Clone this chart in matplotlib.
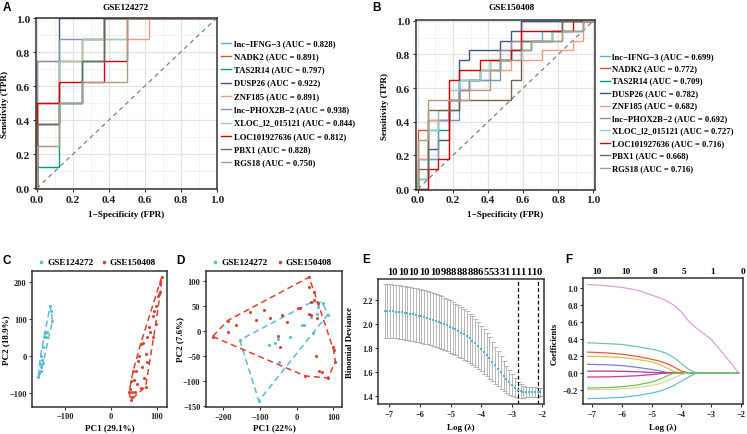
import numpy as np
import matplotlib
matplotlib.use("Agg")
import matplotlib.pyplot as plt
from matplotlib.lines import Line2D

# ---------------- data ----------------
genes = ['lnc\u2212IFNG\u22123', 'NADK2', 'TAS2R14', 'DUSP26', 'ZNF185',
         'lnc\u2212PHOX2B\u22122', 'XLOC_l2_015121', 'LOC101927636', 'PBX1', 'RGS18']
roc_colors = ['#4DBBD5', '#E64B35', '#00A087', '#3C5488', '#F39B7F',
              '#8491B4', '#91D1C2', '#DC0000', '#7E6148', '#B09C85']
auc_a = [0.828, 0.891, 0.797, 0.922, 0.891, 0.938, 0.844, 0.812, 0.828, 0.750]
auc_b = [0.699, 0.772, 0.709, 0.782, 0.682, 0.692, 0.727, 0.716, 0.668, 0.716]

# true positives reached in each FPR column (8 controls / 8 cases)
roc_a = [
    [3, 4, 6, 8, 8, 8, 8, 8],
    [4, 6, 7, 8, 8, 8, 8, 8],
    [1, 4, 6, 8, 8, 8, 8, 8],
    [3, 8, 8, 8, 8, 8, 8, 8],
    [6, 6, 7, 7, 7, 8, 8, 8],
    [6, 7, 7, 8, 8, 8, 8, 8],
    [2, 6, 7, 7, 8, 8, 8, 8],
    [4, 5, 5, 6, 8, 8, 8, 8],
    [3, 4, 6, 8, 8, 8, 8, 8],
    [2, 4, 5, 5, 8, 8, 8, 8],
]
# 17 controls / 17 cases
roc_b = [
    [0, 3, 7, 9, 11, 11, 11, 12, 13, 14, 15, 15, 16, 16, 16, 16, 17],
    [6, 7, 7, 9, 10, 11, 12, 13, 14, 15, 17, 17, 17, 17, 17, 17, 17],
    [1, 6, 6, 8, 11, 11, 12, 12, 13, 14, 14, 15, 15, 16, 17, 17, 17],
    [3, 4, 5, 9, 13, 14, 14, 14, 15, 16, 17, 17, 17, 17, 17, 17, 17],
    [3, 7, 8, 9, 10, 11, 12, 12, 12, 13, 13, 13, 14, 14, 14, 15, 17],
    [1, 3, 7, 7, 10, 11, 11, 11, 14, 15, 15, 15, 15, 16, 16, 16, 17],
    [1, 6, 8, 10, 11, 11, 12, 13, 13, 14, 14, 15, 15, 16, 17, 17, 17],
    [0, 2, 3, 11, 12, 12, 13, 13, 13, 14, 16, 16, 16, 16, 16, 17, 17],
    [2, 8, 8, 8, 9, 9, 9, 9, 9, 11, 15, 15, 15, 15, 17, 17, 17],
    [5, 9, 9, 9, 9, 10, 10, 12, 13, 13, 14, 15, 15, 15, 16, 16, 17],
]

groups = ['GSE124272', 'GSE150408']
group_colors = ['#5BBCD6', '#E0402F']

# PCA before batch correction
c_x1 = [-158, -156, -154, -153, -151, -153, -148, -145, -143, -140, -132, -131, -127, -147, -138, -150]
c_y1 = [-57, -46, -21, -30, -39, 2, -19, 51, 62, 51, 137, 121, 96, 24, 65, -10]
c_x2 = [40, 44, 47, 45, 51, 55, 58, 65, 73, 76, 60, 65, 71, 62, 76, 80, 84,
        85, 91, 95, 98, 102, 105, 108, 111, 108, 47, 42, 49, 69, 91, 98, 79, 53]
c_y2 = [-97, -118, -111, -66, -64, -39, -75, -86, -59, -82, -12, 33, 35, 2, 6, 51, 78,
        65, 110, 123, 137, 164, 168, 194, 214, 173, -97, -88, -39, -30, 51, 87, -16, -97]

# PCA after batch correction
d_x1 = [-155, -103, -75, -58, -52, -47, -18, 14, 20, 39, 44, 55, 59, 71, 85, 41]
d_y1 = [-18, -140, -28, -24, -16, -63, -11, 12, 12, 29, -3, 34, 48, 57, 33, 58]
d_x2 = [-229, -188, -186, -166, -127, -111, -89, -73, -39, -27, -52, -45, 3, 9, 34,
        35, 39, 33, 40, 48, 55, 58, 53, 98, 101, 106, 62, 70, 23, 85, 47]
d_y2 = [-11, 21, -1, 12, 38, 23, 42, 26, 33, 18, -9, -33, 46, 46, 108,
        88, 58, 34, 33, 62, 26, 57, -51, -33, -38, -62, -80, -83, -90, -94, 78]

# LASSO cross validation
log_lambda = [-7.15, -7.06, -6.97, -6.87, -6.78, -6.69, -6.60, -6.50, -6.41, -6.32,
              -6.23, -6.13, -6.04, -5.95, -5.86, -5.76, -5.67, -5.58, -5.49, -5.39,
              -5.30, -5.21, -5.12, -5.02, -4.93, -4.84, -4.75, -4.65, -4.56, -4.47,
              -4.38, -4.29, -4.19, -4.10, -4.01, -3.92, -3.82, -3.73, -3.64, -3.55,
              -3.45, -3.36, -3.27, -3.18, -3.08, -2.99, -2.90, -2.81, -2.71, -2.62,
              -2.53, -2.44, -2.34, -2.25, -2.16, -2.07]
cv_mean = [2.110, 2.109, 2.107, 2.105, 2.103, 2.100, 2.097, 2.093, 2.089, 2.085,
           2.080, 2.075, 2.070, 2.064, 2.058, 2.051, 2.044, 2.036, 2.028, 2.019,
           2.010, 2.000, 1.990, 1.979, 1.967, 1.955, 1.942, 1.928, 1.913, 1.897,
           1.880, 1.861, 1.841, 1.819, 1.796, 1.771, 1.745, 1.717, 1.688, 1.658,
           1.628, 1.598, 1.569, 1.541, 1.515, 1.492, 1.470, 1.452, 1.440, 1.436,
           1.435, 1.435, 1.435, 1.435, 1.435, 1.435]
cv_sd = [0.222, 0.222, 0.222, 0.222, 0.222, 0.222, 0.222, 0.222, 0.222, 0.222,
         0.222, 0.222, 0.221, 0.221, 0.221, 0.221, 0.221, 0.220, 0.220, 0.220,
         0.219, 0.219, 0.218, 0.217, 0.216, 0.215, 0.214, 0.212, 0.210, 0.208,
         0.205, 0.202, 0.199, 0.195, 0.190, 0.185, 0.179, 0.172, 0.164, 0.155,
         0.145, 0.135, 0.124, 0.113, 0.102, 0.091, 0.080, 0.068, 0.058, 0.050,
         0.045, 0.042, 0.040, 0.038, 0.037, 0.036]
nz_labels = ['10', '10', '10', '10', '10', '9', '8', '8', '8', '8', '8', '8',
             '6', '5', '5', '3', '3', '1', '1', '1', '1', '1', '1', '0']
lambda_min = -2.81
lambda_1se = -2.16

# LASSO coefficient paths
path_x = [-7.15, -6.5, -6.0, -5.5, -5.0, -4.75, -4.5, -4.25, -4.0, -3.75, -3.5, -3.0, -2.5, -2.07]
coef_paths = [
    [1.045, 1.03, 1.01, 0.98, 0.92, 0.89, 0.85, 0.80, 0.72, 0.61, 0.53, 0.40, 0.19, 0.0],
    [0.355, 0.345, 0.335, 0.31, 0.28, 0.26, 0.23, 0.18, 0.11, 0.04, 0.0, 0.0, 0.0, 0.0],
    [0.245, 0.235, 0.22, 0.195, 0.16, 0.14, 0.11, 0.07, 0.02, 0.0, 0.0, 0.0, 0.0, 0.0],
    [0.195, 0.19, 0.18, 0.16, 0.13, 0.10, 0.06, 0.015, 0.0, 0.0, 0.0, 0.0, 0.0, 0.0],
    [0.10, 0.095, 0.085, 0.065, 0.04, 0.025, 0.005, 0.0, 0.0, 0.0, 0.0, 0.0, 0.0, 0.0],
    [0.02, 0.02, 0.018, 0.012, 0.005, 0.002, 0.0, 0.0, 0.0, 0.0, 0.0, 0.0, 0.0, 0.0],
    [-0.05, -0.048, -0.043, -0.035, -0.022, -0.012, -0.002, 0.0, 0.0, 0.0, 0.0, 0.0, 0.0, 0.0],
    [-0.20, -0.198, -0.19, -0.175, -0.15, -0.13, -0.10, -0.06, -0.02, 0.0, 0.0, 0.0, 0.0, 0.0],
    [-0.305, -0.30, -0.29, -0.27, -0.24, -0.22, -0.19, -0.15, -0.10, -0.05, -0.005, 0.0, 0.0, 0.0],
    [-0.18, -0.175, -0.165, -0.145, -0.11, -0.08, -0.04, 0.0, 0.0, 0.0, 0.0, 0.0, 0.0, 0.0],
]
coef_colors = ['#D9A3D6', '#6CC8A4', '#E45A3C', '#D8C24E', '#7C7FCC',
               '#9E3FAE', '#D2379A', '#E2D3A4', '#62BEDF', '#74C148']
df_top = ['10', '10', '8', '5', '1', '0']
df_top_x = [-6.84, -5.86, -4.88, -3.91, -2.93, -1.92]

W, H = 747, 435
SERIF = 'Liberation Serif'
FRAME = '#333333'


def px(x, y):
    return x / W, 1 - y / H


def roc_path(heights):
    n = len(heights)
    xs, ys = [0.0], [0.0]
    for i, h in enumerate(heights):
        xs += [i / n, (i + 1) / n]
        ys += [h / n, h / n]
    return xs, ys


def hull(x, y):
    pts = sorted(set(zip(x, y)))

    def cross(o, a, b):
        return (a[0] - o[0]) * (b[1] - o[1]) - (a[1] - o[1]) * (b[0] - o[0])

    lower, upper = [], []
    for p in pts:
        while len(lower) >= 2 and cross(lower[-2], lower[-1], p) <= 0:
            lower.pop()
        lower.append(p)
    for p in reversed(pts):
        while len(upper) >= 2 and cross(upper[-2], upper[-1], p) <= 0:
            upper.pop()
        upper.append(p)
    h = lower[:-1] + upper[:-1]
    h.append(h[0])
    return [p[0] for p in h], [p[1] for p in h]


def font(size):
    return dict(family=SERIF, weight='bold', size=size)


def ftext(fig, x, y, s, size, **kw):
    fx, fy = px(x, y)
    kw.setdefault('ha', 'center')
    kw.setdefault('va', 'center')
    fig.text(fx, fy, s, **font(size), **kw)


def style_axes(ax, size=6.3):
    for s in ax.spines.values():
        s.set_color(FRAME)
        s.set_linewidth(1.1)
    ax.tick_params(length=2.5, width=0.8, color=FRAME, labelsize=size, pad=1.5,
                   labelcolor='#222222')
    for lab in ax.get_xticklabels() + ax.get_yticklabels():
        lab.set_fontfamily(SERIF)
        lab.set_fontweight('bold')


def draw_roc(fig, ax, curves, aucs, leg_x, leg_y0, leg_dy, xlim, ylim):
    ax.set_axisbelow(True)
    ax.set_xticks(np.arange(0, 1.01, 0.2))
    ax.set_yticks(np.arange(0, 1.01, 0.2))
    ax.set_xticks(np.arange(0.1, 1.0, 0.2), minor=True)
    ax.set_yticks(np.arange(0.1, 1.0, 0.2), minor=True)
    ax.grid(True, which='major', color='#E3E3E3', lw=0.9)
    ax.grid(True, which='minor', color='#EFEFEF', lw=0.5)
    ax.tick_params(which='minor', length=0)
    ax.plot([0, 1], [0, 1], color='#808080', lw=0.9, ls=(0, (3.5, 3)))
    for h, c in zip(curves, roc_colors):
        xs, ys = roc_path(h)
        ax.plot(xs, ys, color=c, lw=1.0, solid_joinstyle='miter')
    ax.set_xlim(*xlim)
    ax.set_ylim(*ylim)
    ax.set_xticklabels([f'{v:.1f}' for v in np.arange(0, 1.01, 0.2)])
    ax.set_yticklabels([f'{v:.1f}' for v in np.arange(0, 1.01, 0.2)])
    style_axes(ax, 8.2)
    for i, (g, a, c) in enumerate(zip(genes, aucs, roc_colors)):
        y = leg_y0 + leg_dy * i
        x0, y0 = px(leg_x, y)
        x1, _ = px(leg_x + 10, y)
        fig.add_artist(Line2D([x0, x1], [y0, y0], color=c, lw=1.0))
        ftext(fig, leg_x + 12.5, y, f'{g} (AUC = {a:.3f})', 6.25, ha='left')


def draw_pca(fig, ax, x1, y1, x2, y2, xlim, ylim, xticks, yticks, leg_x):
    for xs, ys, c in ((x1, y1, group_colors[0]), (x2, y2, group_colors[1])):
        hx, hy = hull(xs, ys)
        ax.plot(hx, hy, color=c, lw=1.1, ls=(0, (4, 2.5)))
        ax.scatter(xs, ys, s=5, color=c, lw=0, zorder=3)
    ax.set_xlim(*xlim)
    ax.set_ylim(*ylim)
    ax.set_xticks(xticks)
    ax.set_yticks(yticks)
    style_axes(ax, 6.0)
    for g, c, lx in zip(groups, group_colors, leg_x):
        mx, my = px(lx, 263)
        fig.add_artist(Line2D([mx], [my], marker='o', ms=2.6, color=c, mew=0, ls='none'))
        ftext(fig, lx + 6, 263, g, 6.7, ha='left')


def main():
    fig = plt.figure(figsize=(W / 100, H / 100), dpi=100)

    axA = fig.add_axes([0.0478, 0.5632, 0.2423, 0.3931])
    axB = fig.add_axes([0.5565, 0.5616, 0.2394, 0.3908])
    axC = fig.add_axes([0.0432, 0.0627, 0.1800, 0.3127])
    axD = fig.add_axes([0.2758, 0.0613, 0.1816, 0.3141])
    axE = fig.add_axes([0.5064, 0.0690, 0.2218, 0.2874])
    axF = fig.add_axes([0.7809, 0.0690, 0.2142, 0.2897])

    draw_roc(fig, axA, roc_a, auc_a, 221, 43.7, 13.3, (-0.006, 1.0), (-0.004, 1.0))
    draw_roc(fig, axB, roc_b, auc_b, 599.5, 56.7, 12.45, (-0.012, 1.006), (-0.004, 1.006))
    ftext(fig, 126, 7.5, 'GSE124272', 6.7)
    ftext(fig, 512, 8.5, 'GSE150408', 6.7)
    for x in (126, 505):
        ftext(fig, x, 215, '1\u2212Specificity (FPR)', 6.6)
    ftext(fig, 5, 105, 'Sensitivity (TPR)', 6.6, rotation=90)
    ftext(fig, 385, 106, 'Sensitivity (TPR)', 6.6, rotation=90)

    draw_pca(fig, axC, c_x1, c_y1, c_x2, c_y2, (-171, 122), (-136, 231),
             [-100, 0, 100], [-100, 0, 100, 200], [41, 104])
    draw_pca(fig, axD, d_x1, d_y1, d_x2, d_y2, (-247, 123), (-153, 121),
             [-200, -100, 0, 100], [-150, -100, -50, 0, 50, 100], [215, 280])
    ftext(fig, 110, 428, 'PC1 (29.1%)', 6.5)
    ftext(fig, 6, 340, 'PC2 (18.9%)', 6.5, rotation=90)
    ftext(fig, 274, 428, 'PC1 (22%)', 6.5)
    ftext(fig, 180, 340, 'PC2 (7.6%)', 6.5, rotation=90)

    # E: cross validation curve
    axE.errorbar(log_lambda, cv_mean, yerr=cv_sd, fmt='none', ecolor='#ABABAB',
                 elinewidth=0.6, capsize=1.8, capthick=0.6)
    axE.scatter(log_lambda, cv_mean, s=4, marker='s', color='#4FB3D9', lw=0, zorder=3)
    for v in (lambda_min, lambda_1se):
        axE.axvline(v, color='black', lw=0.9, ls=(0, (3, 2)))
    axE.set_xlim(-7.36, -1.95)
    axE.set_ylim(1.336, 2.374)
    axE.set_xticks([-7, -6, -5, -4, -3, -2])
    axE.set_yticks([1.4, 1.6, 1.8, 2.0, 2.2])
    style_axes(axE, 6.0)
    ftext(fig, 461, 428, 'Log (\u03bb)', 6.5)
    ftext(fig, 350, 343, 'Binomial Deviance', 6.4, rotation=90)
    # numbers of non-zero coefficients along the top, packed like R draws them
    start, end = 387.0, 542.0
    char_w = (end - start) / sum(len(s) for s in nz_labels)
    pos = start
    for lab in nz_labels:
        w = char_w * len(lab)
        ftext(fig, pos + w / 2, 272.5, lab, 7.6)
        pos += w

    # F: coefficient paths
    for vals, c in zip(coef_paths, coef_colors):
        axF.plot(path_x, vals, color=c, lw=0.9)
    axF.set_xlim(-7.30, -1.91)
    axF.set_ylim(-0.369, 1.122)
    axF.set_xticks([-7, -6, -5, -4, -3, -2])
    axF.set_yticks([-0.2, 0.0, 0.2, 0.4, 0.6, 0.8, 1.0])
    style_axes(axF, 6.0)
    ftext(fig, 663, 428, 'Log (\u03bb)', 6.5)
    ftext(fig, 555, 344, 'Coefficients', 6.0, rotation=90)
    for lab, xv in zip(df_top, df_top_x):
        fx = axF.transData.transform((xv, 0))[0]
        ftext(fig, fx * W / fig.bbox.width, 272.5, lab, 6.7)

    # panel letters
    for letter, (x, y) in zip('ABCDEF', [(7, 8), (376, 8), (7, 261), (180, 261), (366, 260), (569, 260)]):
        fx, fy = px(x, y)
        fig.text(fx, fy, letter, ha='center', va='center', family='Liberation Sans',
                 weight='bold', size=8.5)

    fig.savefig('out.png', dpi=100, facecolor='white')


if __name__ == '__main__':
    main()
